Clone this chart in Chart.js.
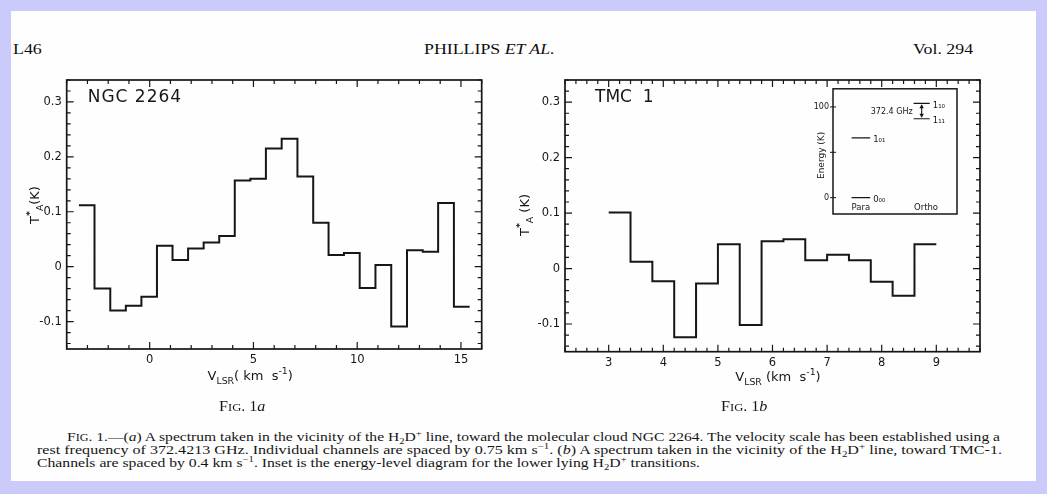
<!DOCTYPE html>
<html>
<head>
<meta charset="utf-8">
<script src="https://cdn.jsdelivr.net/npm/chart.js@4/dist/chart.umd.min.js"></script>
<style>
  html, body { margin: 0; padding: 0; }
  body {
    width: 1047px; height: 494px; position: relative; overflow: hidden;
    background: #cbcbfb; color: #161616;
    font-family: "Liberation Serif", "Times New Roman", serif;
  }
  #page { position: absolute; left: 11px; top: 11px; width: 1025px; height: 470px; background: #fefefe; }
  canvas { position: absolute; }
  .wide { transform-origin: left top; transform: scaleX(1.15); white-space: nowrap; }
  .hdr { position: absolute; top: 39px; font-size: 15.5px; line-height: 20px; color: #0e0e0e; }
  .fig { position: absolute; top: 399px; font-size: 14px; line-height: 16px; }
  .sc small { font-size: 0.78em; }
  .cap { position: absolute; font-size: 12px; line-height: 14px; white-space: nowrap; transform-origin: left top; }
  .cap sub, .cap sup { font-size: 0.68em; line-height: 0; }
</style>
</head>
<body>
<div id="page"></div>

<div class="hdr wide" style="left:13px">L46</div>
<div class="hdr wide" style="left:424px">PHILLIPS <i>ET AL.</i></div>
<div class="hdr wide" style="left:913px">Vol. 294</div>

<canvas id="ngc" width="500" height="340" style="left:0px;top:60px"></canvas>
<canvas id="tmc" width="500" height="340" style="left:500px;top:60px"></canvas>
<canvas id="levels" width="180" height="145" style="left:790px;top:80px"></canvas>

<div class="fig sc wide" style="left:219px">F<small>IG</small>. 1<i>a</i></div>
<div class="fig sc wide" style="left:721px">F<small>IG</small>. 1<i>b</i></div>

<div class="cap" data-w="933" style="left:67px;top:430px"><span class="sc">F<small>IG</small>.</span> 1.—(<i>a</i>) A spectrum taken in the vicinity of the H<sub>2</sub>D<sup>+</sup> line, toward the molecular cloud NGC 2264. The velocity scale has been established using a</div>
<div class="cap" data-w="965" style="left:37px;top:443px">rest frequency of 372.4213 GHz. Individual channels are spaced by 0.75 km s<sup>−1</sup>. (<i>b</i>) A spectrum taken in the vicinity of the H<sub>2</sub>D<sup>+</sup> line, toward TMC-1.</div>
<div class="cap" data-w="663" style="left:37px;top:456px">Channels are spaced by 0.4 km s<sup>−1</sup>. Inset is the energy-level diagram for the lower lying H<sub>2</sub>D<sup>+</sup> transitions.</div>

<script>
// NGC 2264 spectrum: channel edges (km/s) and T*A per channel (K)
const ngcEdges = [-3.41, -2.66, -1.90, -1.15, -0.40, 0.35, 1.10, 1.85, 2.60, 3.35, 4.10, 4.85, 5.60,
                  6.36, 7.12, 7.88, 8.62, 9.36, 10.12, 10.88, 11.64, 12.40, 13.16, 13.90, 14.66, 15.42];
const ngcTemps = [0.112, -0.040, -0.080, -0.071, -0.055, 0.038, 0.012, 0.033, 0.044, 0.056, 0.157, 0.160,
                  0.215, 0.233, 0.164, 0.080, 0.021, 0.025, -0.039, 0.003, -0.109, 0.030, 0.027, 0.116, -0.073];

// TMC 1 spectrum
const tmcEdges = [3.0, 3.4, 3.8, 4.2, 4.6, 5.0, 5.4, 5.8, 6.2, 6.6, 7.0, 7.4, 7.8, 8.2, 8.6, 9.0];
const tmcTemps = [0.101, 0.012, -0.023, -0.124, -0.027, 0.044, -0.102, 0.049, 0.053, 0.015, 0.025,
                  0.015, -0.024, -0.049, 0.044];

// H2D+ energy levels for the inset (K)
const levelNames = ['0₀₀', '1₀₁', '1₁₁', '1₁₀'];
const levelEnergies = [0, 66, 87, 104];
const levelKinds = ['para', 'para', 'ortho', 'ortho'];
const energyTicks = [0, 50, 100];
const transitionLabel = '372.4 GHz';

const INK = '#161616';
const SANS = '"DejaVu Sans", "Liberation Sans", sans-serif';

// stretch each caption line to its column width
document.querySelectorAll('.cap').forEach(el => {
  const natural = el.getBoundingClientRect().width;
  el.style.transform = `scaleX(${el.dataset.w / natural})`;
});

Chart.defaults.font.family = SANS;
Chart.defaults.color = INK;
Chart.defaults.animation = false;

// each channel value holds from its edge to the next one
function stepPoints(edges, temps) {
  return edges.map((x, i) => ({ x, y: temps[Math.min(i, temps.length - 1)] }));
}

function isMultiple(v, step) {
  const r = v / step;
  return Math.abs(r - Math.round(r)) < 1e-6;
}

// text with sub/superscript pieces, centred on (cx, cy)
function drawRich(ctx, segs, cx, cy, size) {
  const fontFor = s => `${s.bold ? 'bold ' : ''}${s.sub || s.sup ? size * 0.72 : size}px ${SANS}`;
  let total = 0;
  segs.forEach(s => { ctx.font = fontFor(s); s.w = ctx.measureText(s.t).width; total += s.w; });
  let x = cx - total / 2;
  ctx.textAlign = 'left';
  ctx.textBaseline = 'middle';
  segs.forEach(s => {
    ctx.font = fontFor(s);
    const dy = s.sub ? size * 0.38 : s.sup ? -size * 0.42 : 0;
    ctx.fillText(s.t, x, cy + dy);
    x += s.w;
  });
}

// box frame with inward tick marks on all four sides
const frameTicks = {
  id: 'frameTicks',
  afterDraw(chart, args, opts) {
    const { ctx, chartArea: a, scales } = chart;
    ctx.save();
    ctx.strokeStyle = INK;
    ctx.lineWidth = opts.frame;
    ctx.strokeRect(a.left, a.top, a.right - a.left, a.bottom - a.top);
    ctx.lineWidth = opts.tick;
    ctx.beginPath();
    if (opts.xTicks) {
      scales.x.ticks.forEach(t => {
        const px = scales.x.getPixelForValue(t.value);
        const len = t.label ? opts.major : opts.minor;
        ctx.moveTo(px, a.bottom); ctx.lineTo(px, a.bottom - len);
        ctx.moveTo(px, a.top); ctx.lineTo(px, a.top + len);
      });
    }
    scales.y.ticks.forEach(t => {
      const py = scales.y.getPixelForValue(t.value);
      const len = t.label ? opts.major : opts.minor;
      ctx.moveTo(a.left - (opts.outer || 0), py); ctx.lineTo(a.left + len, py);
      if (opts.rightTicks) { ctx.moveTo(a.right, py); ctx.lineTo(a.right - len, py); }
    });
    ctx.stroke();
    ctx.restore();
  }
};

// axis titles and the source name
const titles = {
  id: 'titles',
  afterDraw(chart, args, opts) {
    const { ctx, chartArea: a } = chart;
    ctx.save();
    ctx.fillStyle = INK;
    if (opts.name) {
      ctx.font = `17px ${SANS}`;
      ctx.letterSpacing = opts.name_spacing;
      ctx.textBaseline = 'middle';
      ctx.fillText(opts.name, a.left + opts.name_dx, a.top + opts.name_dy);
      ctx.letterSpacing = '0px';
    }
    if (opts.x) drawRich(ctx, opts.x.segs, (a.left + a.right) / 2 + opts.x.dx, a.bottom + opts.x.dy, opts.x.size);
    if (opts.y) {
      ctx.translate(a.left + opts.y.dx, opts.y.cy);
      ctx.rotate(-Math.PI / 2);
      drawRich(ctx, opts.y.segs, 0, 0, opts.y.size);
    }
    ctx.restore();
  }
};

function spectrum(id, edges, temps, cfg) {
  return new Chart(document.getElementById(id), {
    type: 'line',
    data: {
      datasets: [{
        data: stepPoints(edges, temps),
        stepped: true,
        borderColor: INK,
        borderWidth: 2,
        pointRadius: 0,
        fill: false
      }]
    },
    options: {
      responsive: false,
      devicePixelRatio: 1,
      layout: { padding: { top: cfg.padTop, right: cfg.padRight, left: 0, bottom: 0 } },
      plugins: {
        legend: { display: false },
        tooltip: { enabled: false },
        frameTicks: { frame: 1.7, tick: 1.2, major: 7, minor: 4, xTicks: true, rightTicks: true },
        titles: cfg.titles
      },
      scales: {
        x: {
          type: 'linear',
          min: cfg.xMin, max: cfg.xMax,
          grid: { display: false, drawTicks: false },
          border: { display: false },
          ticks: {
            stepSize: cfg.xStep, includeBounds: false, autoSkip: false, maxRotation: 0,
            padding: 4, font: { size: 11.5 },
            callback: v => isMultiple(v, cfg.xLabelEvery) ? String(Math.round(v)) : ''
          },
          afterFit: s => { s.height = cfg.xHeight; }
        },
        y: {
          min: -0.15, max: 0.34,
          grid: { display: false, drawTicks: false },
          border: { display: false },
          ticks: {
            stepSize: 0.02, includeBounds: false, autoSkip: false,
            padding: 5, font: { size: 11.5 },
            callback: v => isMultiple(v, 0.1) ? String(Math.round(v * 10) / 10) : ''
          },
          afterFit: s => { s.width = cfg.yWidth; }
        }
      }
    },
    plugins: [frameTicks, titles]
  });
}

spectrum('ngc', ngcEdges, ngcTemps, {
  xMin: -4, xMax: 16, xStep: 1, xLabelEvery: 5,
  padTop: 20, padRight: 18.3, yWidth: 66.7, xHeight: 51,
  titles: {
    name: 'NGC 2264', name_dx: 21, name_dy: 18, name_spacing: '1px',
    x: { size: 13, dx: -24, dy: 28,
         segs: [{ t: 'V' }, { t: 'LSR', sub: true }, { t: '( km  s' }, { t: '-1', sup: true }, { t: ')' }] },
    y: { size: 13, dx: -31, cy: 145,
         segs: [{ t: 'T' }, { t: '*', sup: true, bold: true }, { t: 'A', sub: true }, { t: '(K)' }] }
  }
});

spectrum('tmc', tmcEdges, tmcTemps, {
  xMin: 2.2, xMax: 9.8, xStep: 0.2, xLabelEvery: 1,
  padTop: 20, padRight: 20, yWidth: 65, xHeight: 48.3,
  titles: {
    name: 'TMC  1', name_dx: 30, name_dy: 18, name_spacing: '0px',
    x: { size: 13, dx: 5.5, dy: 26,
         segs: [{ t: 'V' }, { t: 'LSR', sub: true }, { t: ' (km  s' }, { t: '-1', sup: true }, { t: ')' }] },
    y: { size: 13, dx: -39, cy: 155,
         segs: [{ t: 'T' }, { t: '*', sup: true, bold: true }, { t: 'A', sub: true }, { t: ' (K)' }] }
  }
});

// column of each species in the level diagram (fraction of the inset width)
const columns = { para: [0.15, 0.30], ortho: [0.65, 0.78] };

const levelLabels = {
  id: 'levelLabels',
  afterDraw(chart) {
    const { ctx, chartArea: a, scales: { x, y } } = chart;
    ctx.save();
    ctx.fillStyle = INK;
    ctx.strokeStyle = INK;
    ctx.font = `8.5px ${SANS}`;
    ctx.textBaseline = 'middle';
    ctx.textAlign = 'left';
    levelNames.forEach((name, i) => {
      const col = columns[levelKinds[i]];
      ctx.fillText(name, x.getPixelForValue(col[1]) + 3, y.getPixelForValue(levelEnergies[i]) + 2);
    });
    // the 1_10 - 1_11 transition
    const ax = x.getPixelForValue((columns.ortho[0] + columns.ortho[1]) / 2);
    const yTop = y.getPixelForValue(levelEnergies[3]);
    const yBot = y.getPixelForValue(levelEnergies[2]);
    ctx.lineWidth = 1.1;
    ctx.beginPath();
    ctx.moveTo(ax, yTop + 2); ctx.lineTo(ax, yBot - 2);
    ctx.stroke();
    ctx.beginPath();
    ctx.moveTo(ax, yTop + 1); ctx.lineTo(ax - 2.2, yTop + 5); ctx.lineTo(ax + 2.2, yTop + 5); ctx.closePath();
    ctx.moveTo(ax, yBot - 1); ctx.lineTo(ax - 2.2, yBot - 5); ctx.lineTo(ax + 2.2, yBot - 5); ctx.closePath();
    ctx.fill();
    ctx.font = `8px ${SANS}`;
    ctx.textAlign = 'right';
    ctx.fillText(transitionLabel, x.getPixelForValue(columns.ortho[0]) - 1, (yTop + yBot) / 2 + 1);
    // species names along the bottom
    ctx.font = `8.5px ${SANS}`;
    ctx.textAlign = 'center';
    ctx.fillText('Para', x.getPixelForValue((columns.para[0] + columns.para[1]) / 2), a.bottom - 6);
    ctx.fillText('Ortho', x.getPixelForValue(columns.ortho[0] + 0.1), a.bottom - 6);
    // energy axis title
    ctx.translate(a.left - 11, (a.top + a.bottom) / 2 + 4);
    ctx.rotate(-Math.PI / 2);
    ctx.font = `9px ${SANS}`;
    ctx.fillText('Energy (K)', 0, 0);
    ctx.restore();
  }
};

new Chart(document.getElementById('levels'), {
  type: 'scatter',
  data: {
    datasets: levelEnergies.map((e, i) => ({
      data: columns[levelKinds[i]].map(c => ({ x: c, y: e })),
      showLine: true,
      borderColor: INK,
      borderWidth: 1.2,
      pointRadius: 0
    }))
  },
  options: {
    responsive: false,
    devicePixelRatio: 1,
    layout: { padding: { top: 7, right: 13, bottom: 11, left: 0 } },
    plugins: {
      legend: { display: false },
      tooltip: { enabled: false },
      frameTicks: { frame: 1.5, tick: 1, major: 3, minor: 3, outer: 3, xTicks: false, rightTicks: false }
    },
    scales: {
      x: { type: 'linear', min: 0, max: 1, display: false },
      y: {
        min: -18, max: 120,
        grid: { display: false, drawTicks: false },
        border: { display: false },
        afterBuildTicks: s => { s.ticks = energyTicks.map(v => ({ value: v })); },
        ticks: {
          padding: 4, font: { size: 8 },
          callback: v => v === 50 ? '' : String(v)
        },
        afterFit: s => { s.width = 43; }
      }
    }
  },
  plugins: [frameTicks, levelLabels]
});
</script>
</body>
</html>
